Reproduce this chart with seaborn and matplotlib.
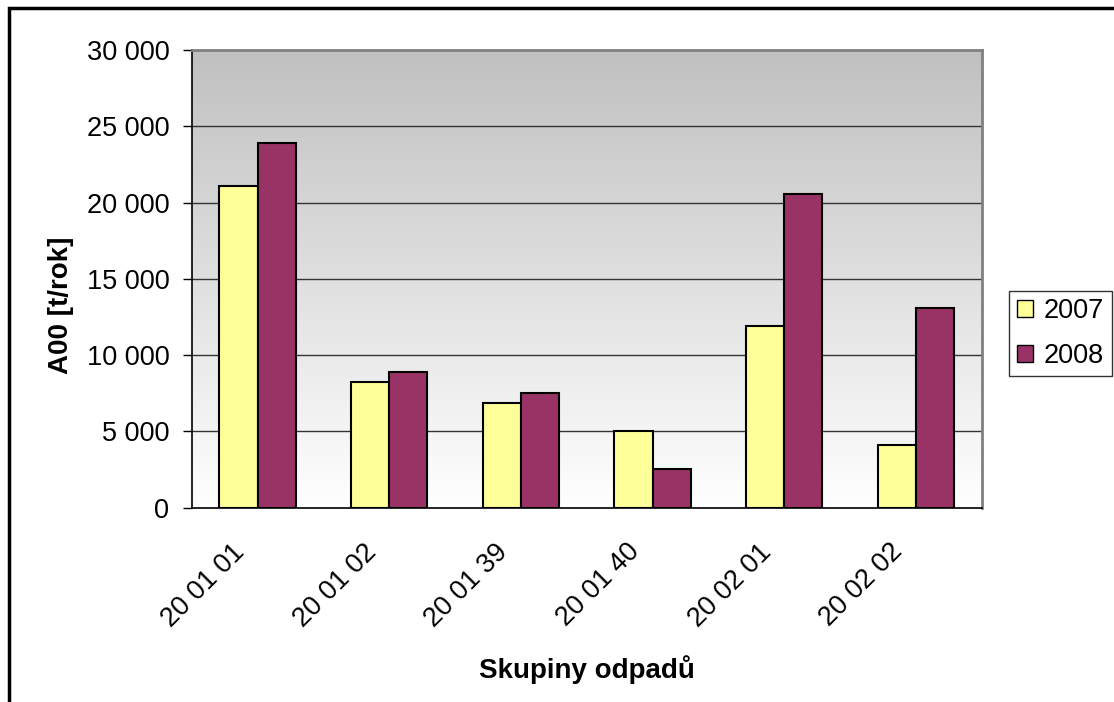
import matplotlib
matplotlib.use("Agg")
import matplotlib.pyplot as plt
import matplotlib.patches as mpatches
import matplotlib.transforms as mtransforms
import numpy as np
import pandas as pd
import seaborn as sns

# Data
categories = ["20 01 01", "20 01 02", "20 01 39", "20 01 40", "20 02 01", "20 02 02"]
years = ["2007", "2008"]
values_2007 = [21100, 8250, 6880, 5000, 11900, 4100]
values_2008 = [23900, 8880, 7540, 2560, 20530, 13100]
y_ticks = [0, 5000, 10000, 15000, 20000, 25000, 30000]
y_tick_labels = ["0", "5 000", "10 000", "15 000", "20 000", "25 000", "30 000"]

df = pd.DataFrame({
    "skupina": categories * 2,
    "rok": [years[0]] * len(categories) + [years[1]] * len(categories),
    "hodnota": values_2007 + values_2008,
})

colors = {"2007": "#FFFF99", "2008": "#993366"}

sns.set_style("white")
plt.rcParams["font.family"] = ["Liberation Sans", "DejaVu Sans"]
plt.rcParams["text.color"] = "black"
plt.rcParams["axes.labelcolor"] = "black"
plt.rcParams["xtick.color"] = "black"
plt.rcParams["ytick.color"] = "black"

W, H = 1114, 702
fig = plt.figure(figsize=(W / 100, H / 100), dpi=100)
ax = fig.add_axes([191.7 / W, 1 - 507.7 / H, 790 / W, 457.7 / H])

# gradient background (grey top -> white bottom)
grad = np.linspace(0, 1, 256).reshape(-1, 1)
cmap = matplotlib.colors.LinearSegmentedColormap.from_list("bg", ["#FFFFFF", "#C0C0C0"])
ax.imshow(grad, extent=(-0.5, len(categories) - 0.5, 0, 30000), origin="lower",
          aspect="auto", cmap=cmap, zorder=0)

sns.barplot(data=df, x="skupina", y="hodnota", hue="rok", palette=colors,
            width=0.58, edgecolor="black", linewidth=1.5, ax=ax, zorder=3,
            legend=False, saturation=1)

ax.set_xlim(-0.5, len(categories) - 0.5)
ax.set_ylim(0, 30000)
ax.set_yticks(y_ticks)
ax.set_yticklabels(y_tick_labels, fontsize=19.5)
for y in y_ticks[1:-1]:
    ax.axhline(y, color="#333333", lw=1, zorder=1)

ax.set_xticks(range(len(categories)))
ax.set_xticklabels(categories, fontsize=19.5, rotation=45, ha="right",
                   va="center", rotation_mode="anchor")
ax.tick_params(axis="x", which="major", length=0, pad=29)
shift = mtransforms.ScaledTranslation(-17 / 100, 0, fig.dpi_scale_trans)
for lbl in ax.get_xticklabels():
    lbl.set_transform(lbl.get_transform() + shift)
ax.set_xticks(np.arange(-0.5, len(categories), 1), minor=True)
ax.tick_params(axis="x", which="minor", length=5, width=1, color="black", direction="out")
ax.tick_params(axis="y", length=6.5, width=1, color="black", direction="out", pad=9.5, left=True)

for side in ["left", "bottom"]:
    ax.spines[side].set_color("black")
    ax.spines[side].set_linewidth(1.2)
for side in ["top", "right"]:
    ax.spines[side].set_visible(True)
    ax.spines[side].set_color("#808080")
    ax.spines[side].set_linewidth(2)

ax.set_xlabel("Skupiny odpadů", fontsize=20, fontweight="bold")
ax.set_ylabel("A00 [t/rok]", fontsize=20, fontweight="bold")
ax.xaxis.set_label_coords((587 - 191.7) / 790, (507.7 - 655) / 457.7)
ax.yaxis.set_label_coords((74 - 191.7) / 790, (507.7 - 305) / 457.7)

handles = [mpatches.Patch(facecolor=colors[y], edgecolor="black", label=y) for y in years]
leg = fig.legend(handles=handles, loc="center left",
                 bbox_to_anchor=(1009 / W, 1 - 333.5 / H), fontsize=19.5,
                 frameon=True, fancybox=False, edgecolor="black",
                 handlelength=0.6, handleheight=0.6, handletextpad=0.4,
                 borderpad=0.28, labelspacing=0.68, borderaxespad=0)
leg.get_frame().set_linewidth(1)

# outer chart border (right/bottom edges fall outside the picture)
fig.patches.append(mpatches.Rectangle((9 / W, -0.05), 1.2, 1 - 8 / H + 0.05,
                                      transform=fig.transFigure, fill=False,
                                      edgecolor="black", lw=2.5))

fig.savefig("out.png", dpi=100)
